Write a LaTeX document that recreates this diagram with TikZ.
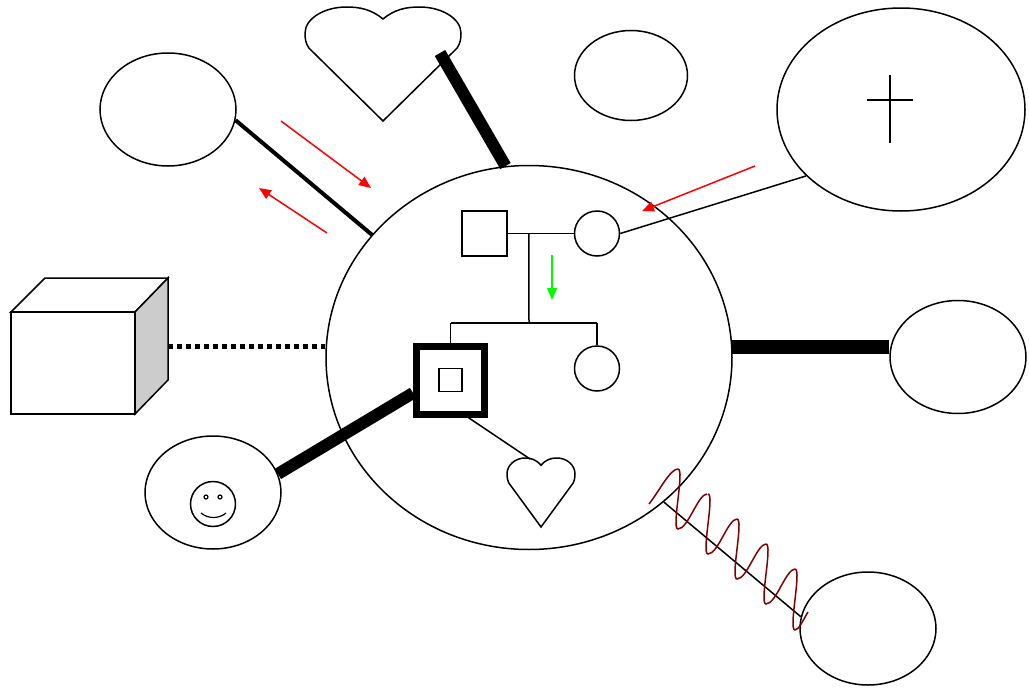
\documentclass[tikz,border=0pt]{standalone}
\usetikzlibrary{arrows.meta,shapes.geometric,calc}
\tikzset{
    person/.style = {ellipse,
                    fill=white,
                    draw=black,
                    inner sep=0pt,
                    line width=1.5pt},
    male/.style =   {rectangle,
                    fill=white,
                    draw=black,
                    inner sep=0pt,
                    line width=1.5pt,
                    minimum size=45pt},
    female/.style = {circle,
                    fill=white,
                    draw=black,
                    inner sep=0pt,
                    line width=1.5pt,
                    minimum size=45pt},
    tie/.style =    {draw=black,
                    line width=1.5pt},
    flow/.style =   {->,
                    line width=1.5pt},
    heartshape/.pic = {
        \draw[line width=1.5pt,fill=white] (0,.105) .. controls (.15,.02) and (.3,0) .. (.47,0)
            .. controls (.75,0) and (1,.1) .. (1,.23)
            .. controls (1,.28) and (.99,.32) .. (.95,.36) -- (0,1) -- (-.95,.36)
            .. controls (-.99,.32) and (-1,.28) .. (-1,.23)
            .. controls (-1,.1) and (-.75,0) .. (-.47,0)
            .. controls (-.3,0) and (-.15,.02) .. (0,.105) -- cycle;
    },
    >={Triangle[length=12pt,width=10pt]}}
\begin{document}
\begin{tikzpicture}[x=1pt,y=-1pt]
    \useasboundingbox (0,0) rectangle (1029,688);

    % outer circles
    \node[person,minimum width=406pt,minimum height=384pt] (ego)    at (529,357.5) {};
    \node[person,minimum width=136pt,minimum height=113pt] (friendA) at (168,109.5) {};
    \node[person,minimum width=113pt,minimum height=90pt]  (friendB) at (631,75.5)  {};
    \node[person,minimum width=248pt,minimum height=203pt] (dead)   at (901,109.5) {};
    \node[person,minimum width=136pt,minimum height=113pt] (friendC) at (958,357)   {};
    \node[person,minimum width=136pt,minimum height=113pt] (friendD) at (868,628.5) {};
    \node[person,minimum width=136pt,minimum height=113pt] (happy)  at (213,492.5) {};

    % hearts
    \pic[xscale=78,yscale=114]   at (383,7)   {heartshape};
    \pic[xscale=34,yscale=69]    at (541,458) {heartshape};
    \coordinate (heartAend) at (440,53);
    \coordinate (heartBend) at (530,459);

    % cube
    \filldraw[fill=white,line width=1.5pt] (11,312) -- (45,278) -- (168,278) -- (135,312) -- cycle;
    \filldraw[fill=black!20,line width=1.5pt] (135,312) -- (168,278) -- (168,380) -- (135,414) -- cycle;
    \node[rectangle,fill=white,draw=black,line width=1.5pt,inner sep=0pt,minimum width=124pt,minimum height=102pt] (cube) at (73,363) {};
    \coordinate (cubeend) at (168,346);

    % cross
    \draw[line width=1.5pt] (890,75) -- (890,143);
    \draw[line width=1.5pt] (867,100) -- (913,100);

    % smiley
    \node[female] (face) at (213,504) {};
    \draw[line width=1.2pt] (206,497) circle (2pt);
    \draw[line width=1.2pt] (220,497) circle (2pt);
    \draw[line width=1.2pt] (201,513) .. controls (208,519) and (219,519) .. (226,513);

    % family
    \node[male]   (father) at (484.5,233.5) {};
    \node[female] (mother) at (597,233.5)   {};
    \node[female] (sister) at (597,368.5)   {};
    \node[male,line width=7pt,minimum size=68pt] (self)  at (450.5,380) {};
    \node[male,minimum size=23pt]                (inner) at (450.5,380) {};
    \coordinate (stem) at ($(father.east)!.32!(mother.west)$);
    \coordinate (bar)  at (529,323);

    \draw[tie] (father) -- (mother);
    \draw[tie] (stem) -- (bar);
    \draw[tie] (self.north |- bar) -- (self.north);
    \draw[tie] (sister.north |- bar) -- (sister.north);
    \draw[tie] (self.north |- bar) -- (sister.north |- bar);

    % ties
    \draw[line width=4pt]  (friendA.-9) -- (ego.142);
    \draw[line width=12pt] (heartAend) -- (ego.97);
    \draw[tie] (dead.215) -- (mother.east);
    \draw[line width=14pt] (ego.3) -- (ego.3 -| friendC.west);
    \draw[line width=5pt,dash pattern=on 5pt off 4pt] (cubeend) -- (cubeend -| ego.west);
    \draw[line width=12pt] (happy.16) -- (self.west |- 0,393);
    \draw[tie] (466,416) -- (heartBend);
    \draw[tie] (ego.-47) -- (friendD.170);

    % wave
    \draw[draw=black!50!red,line width=1.5pt] (649,504) .. controls (660,490) and (670,469) .. (678,469);
    \foreach \px/\py in {678/469,708/494,737/519,766/544}
        \draw[draw=black!50!red,line width=1.5pt] (\px,\py) .. controls (\px+7,\py) and (\px-7,\py+60) .. (\px,\py+60)
            .. controls (\px+10,\py+60) and (\px+20,\py+25) .. (\px+29,\py+25);
    \draw[draw=black!50!red,line width=1.5pt] (795,569) .. controls (802,569) and (788,630) .. (795,630)
        .. controls (799,630) and (803,620) .. (808,612);

    % arrows
    \coordinate (a1) at (281,121);
    \coordinate (a2) at (371,188);
    \coordinate (b1) at (327,233);
    \coordinate (b2) at (259,188);
    \coordinate (c1) at (755,166);
    \coordinate (c2) at (642,211);
    \coordinate (d1) at (552,255);
    \coordinate (d2) at (552,300);
    \draw[flow,red] (a1) -- (a2);
    \draw[flow,red] (b1) -- (b2);
    \draw[flow,red] (c1) -- (c2);
    \draw[flow,green] (d1) -- (d2);
\end{tikzpicture}
\end{document}
